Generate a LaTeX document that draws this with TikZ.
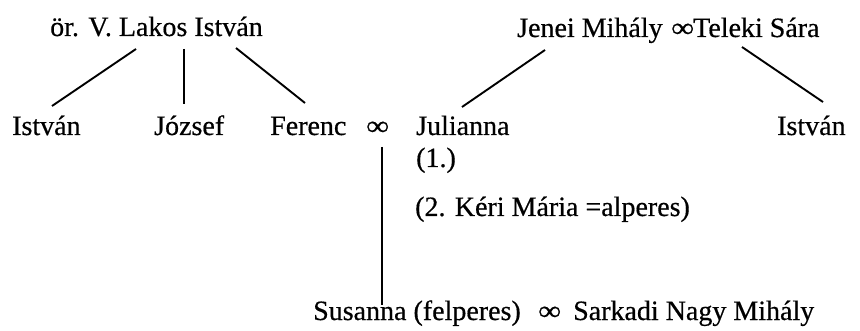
\documentclass[tikz,border=0pt]{standalone}
\usepackage{fontspec}
\setmainfont{Liberation Serif}[FakeBold=0.5]
\begin{document}
\begin{tikzpicture}[x=1pt,y=-1pt,
  lbl/.style={anchor=base west,inner sep=0pt,font=\fontsize{28}{32}\selectfont},
  link/.style={line width=1.9pt}]
\useasboundingbox (0,0) rectangle (860,331);
% top row
\node[lbl] (lakos) at (50,36) {ör. V. Lakos István};
\node[lbl] (jenei) at (517,37) {Jenei Mihály};
\node[lbl] (m2) at (671,37) {\scalebox{1.15}[1]{∞}};
\node[lbl] (teleki) at (693,37) {Teleki Sára};
% second row
\node[lbl] (istvanL) at (12,135) {István};
\node[lbl] (jozsef) at (154,135) {József};
\node[lbl] (ferenc) at (270,135) {Ferenc};
\node[lbl] (m1) at (366,135) {\scalebox{1.15}[1]{∞}};
\node[lbl] (julianna) at (416,135) {Julianna};
\node[lbl] (first) at (416,167) {(1.)};
\node[lbl] (second) at (415,216) {(2. Kéri Mária =alperes)};
\node[lbl] (istvanR) at (777,135) {István};
% bottom row
\node[lbl] (susanna) at (313,320) {Susanna (felperes)};
\node[lbl] (m3) at (538,320) {\scalebox{1.15}[1]{∞}};
\node[lbl] (sarkadi) at (573,320) {Sarkadi Nagy Mihály};
% connectors
\draw[link] ([shift={(86,13)}]lakos.base west) -- ([shift={(40,-29)}]istvanL.base west);
\draw[link] ([shift={(134,13)}]lakos.base west) -- ([shift={(30,-31)}]jozsef.base west);
\draw[link] ([shift={(186,12)}]lakos.base west) -- ([shift={(35,-32)}]ferenc.base west);
\draw[link] ([shift={(28,13)}]jenei.base west) -- ([shift={(46,-28)}]julianna.base west);
\draw[link] ([shift={(49,10)}]teleki.base west) -- ([shift={(46,-33)}]istvanR.base west);
\draw[link] ([shift={(16,12)}]m1.base west) -- ([shift={(69,-15)}]susanna.base west);
\end{tikzpicture}
\end{document}
